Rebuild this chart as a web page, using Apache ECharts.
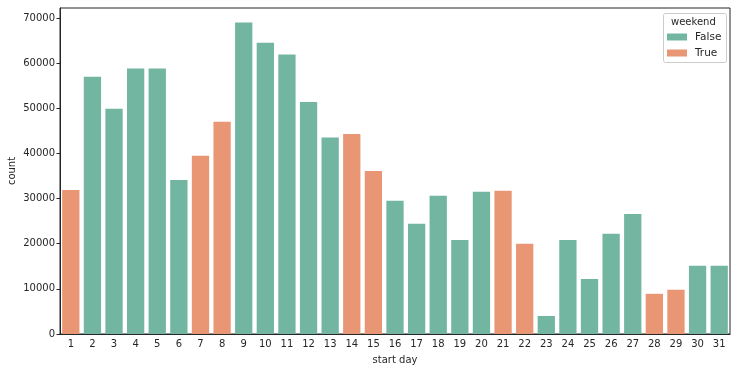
<!DOCTYPE html>
<html><head><meta charset="utf-8">
<script src="https://cdn.jsdelivr.net/npm/echarts@6/dist/echarts.min.js"></script>
<style>html,body{margin:0;padding:0;background:#fff}#c{width:743px;height:371px}</style>
</head><body><div id="c"></div>
<script>
const days = ['1','2','3','4','5','6','7','8','9','10','11','12','13','14','15','16','17','18','19','20','21','22','23','24','25','26','27','28','29','30','31'];
const counts = [31900,57000,49900,58800,58800,34100,39500,47000,69000,64500,61900,51400,43500,44300,36100,29500,24400,30600,20800,31500,31700,20000,4000,20800,12200,22200,26600,8900,9800,15100,15100];
const weekendDays = ['1','7','8','14','15','21','22','28','29'];
const yTicks = [0,10000,20000,30000,40000,50000,60000,70000];

const falseData = days.map((d,i)=> weekendDays.includes(d) ? 0 : counts[i]);
const trueData = days.map((d,i)=> weekendDays.includes(d) ? counts[i] : 0);

const txt = '#262626';
const font = 'DejaVu Sans';
const chart = echarts.init(document.getElementById('c'));
chart.setOption({
  animation:false,
  textStyle:{fontFamily:font},
  grid:{left:60,right:13,top:8,bottom:37,containLabel:false,outerBoundsMode:'none',show:true,borderColor:txt,borderWidth:1,backgroundColor:'transparent'},
  xAxis:{type:'category',data:days,name:'start day',nameLocation:'middle',nameGap:21,nameMoveOverlap:false,
    nameTextStyle:{color:txt,fontSize:10,fontFamily:font},
    axisLine:{lineStyle:{color:txt}},axisTick:{alignWithLabel:true,length:3.5,lineStyle:{color:txt}},
    axisLabel:{color:txt,fontSize:10,fontFamily:font,margin:5}},
  yAxis:{type:'value',min:0,max:72200,interval:10000,
    axisLine:{show:true,lineStyle:{color:txt}},axisTick:{show:true,length:3.5,lineStyle:{color:txt}},
    splitLine:{show:false},
    axisLabel:{color:txt,fontSize:10,fontFamily:font,margin:5,showMaxLabel:false,
      formatter:v=>yTicks.includes(v)?String(v):''}},
  legend:{orient:'vertical',left:667,top:31,padding:0,itemWidth:20,itemHeight:7,itemGap:4,
    icon:'rect',textStyle:{color:txt,fontSize:10.5,fontFamily:font,padding:[0,0,0,3],lineHeight:12},data:['False','True']},
  graphic:[
    {type:'rect',left:663,top:13,shape:{width:63,height:49,r:2},style:{fill:'rgba(255,255,255,0.8)',stroke:'#cccccc',lineWidth:1},z:-1},
    {type:'text',left:671,top:17,style:{text:'weekend',fill:txt,font:'10px DejaVu Sans'}},
    {type:'text',x:12,y:171,rotation:Math.PI/2,style:{text:'count',fill:txt,font:'10px DejaVu Sans',align:'center',verticalAlign:'middle'}}
  ],
  series:[
    {name:'False',type:'bar',stack:'a',data:falseData,barWidth:'80%',itemStyle:{color:'#72b6a1'}},
    {name:'True',type:'bar',stack:'a',data:trueData,barWidth:'80%',itemStyle:{color:'#e99675'}}
  ]
});
</script></body></html>
